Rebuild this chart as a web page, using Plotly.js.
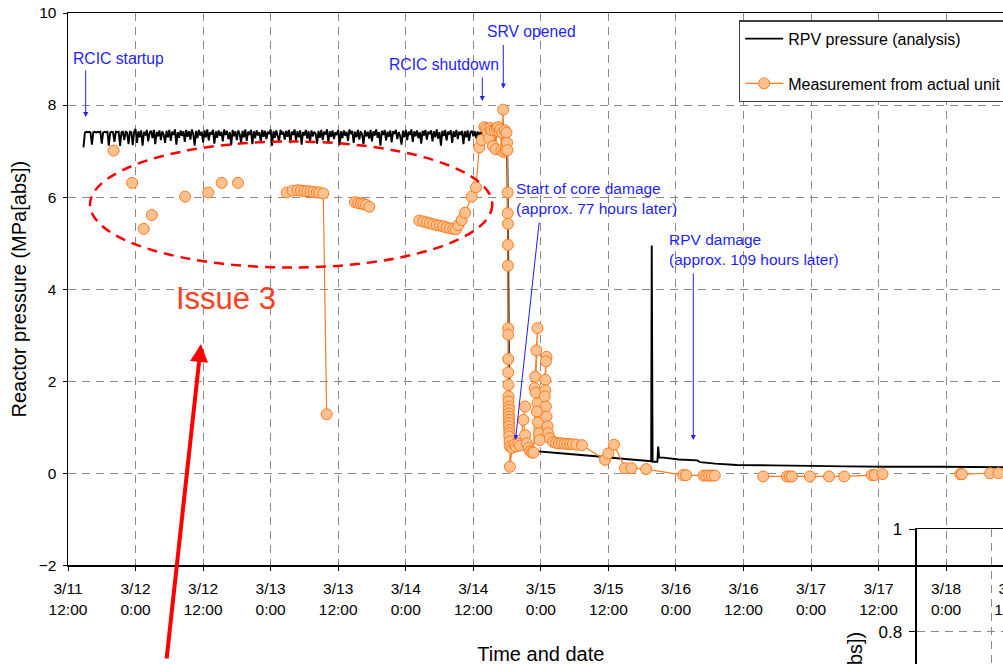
<!DOCTYPE html>
<html>
<head>
<meta charset="utf-8">
<script src="https://cdn.plot.ly/plotly-3.0.1.min.js"></script>
<style>
html,body{margin:0;padding:0;background:#fff;overflow:hidden;width:1003px;height:664px;}
#chart{width:1100px;height:1000px;}
</style>
</head>
<body>
<div id="chart"></div>
<script>
// ---------- DATA (hours after 3/11 12:00) ----------
const tickHours = [0,12,24,36,48,60,72,84,96,108,120,132,144,156,168];
const tickLabels = ["3/11<br>12:00","3/12<br>0:00","3/12<br>12:00","3/13<br>0:00","3/13<br>12:00","3/14<br>0:00","3/14<br>12:00","3/15<br>0:00","3/15<br>12:00","3/16<br>0:00","3/16<br>12:00","3/17<br>0:00","3/17<br>12:00","3/18<br>0:00","3/18<br>12:00"];

// RPV pressure (analysis): RCIC period, sampled every 0.25 h from 2.75 h
const noiseStartHour = 2.75;
const noiseStepHours = 0.25;
const noisePressure = [
7.08,7.40,7.42,7.41,7.42,7.40,7.14,7.41,7.42,7.40,7.42,7.41,
7.42,7.16,7.40,7.42,7.41,7.42,7.12,7.40,7.42,7.41,7.20,7.42,
7.41,7.42,7.11,7.41,7.42,7.24,7.42,7.40,7.15,7.42,7.41,7.13,
7.42,7.48,7.18,7.43,7.30,7.45,7.12,7.42,7.34,7.46,7.21,7.40,
7.44,7.28,7.46,7.15,7.42,7.32,7.45,7.24,7.43,7.36,7.18,7.44,
7.30,7.46,7.22,7.42,7.35,7.47,7.14,7.41,7.29,7.45,7.33,7.43,
7.20,7.46,7.31,7.43,7.25,7.47,7.37,7.12,7.44,7.28,7.46,7.34,
7.42,7.19,7.45,7.30,7.47,7.23,7.41,7.36,7.46,7.16,7.43,7.29,
7.45,7.33,7.42,7.21,7.47,7.35,7.44,7.26,7.41,7.13,7.46,7.32,
7.43,7.24,7.45,7.37,7.18,7.44,7.30,7.47,7.22,7.42,7.35,7.46,
7.15,7.43,7.28,7.45,7.34,7.41,7.20,7.46,7.31,7.44,7.26,7.42,
7.37,7.47,7.12,7.43,7.29,7.45,7.33,7.21,7.46,7.36,7.42,7.25,
7.44,7.31,7.46,7.17,7.42,7.35,7.47,7.23,7.43,7.30,7.45,7.14,
7.41,7.34,7.46,7.27,7.43,7.20,7.45,7.32,7.42,7.38,7.16,7.44,
7.29,7.46,7.24,7.42,7.36,7.47,7.19,7.43,7.31,7.45,7.26,7.41,
7.35,7.46,7.13,7.43,7.28,7.45,7.33,7.42,7.22,7.47,7.37,7.44,
7.18,7.42,7.30,7.46,7.25,7.43,7.36,7.15,7.45,7.32,7.42,7.27,
7.46,7.21,7.43,7.34,7.47,7.29,7.41,7.12,7.44,7.35,7.46,7.23,
7.42,7.31,7.45,7.19,7.43,7.37,7.46,7.26,7.41,7.33,7.14,7.44,
7.30,7.46,7.24,7.42,7.35,7.47,7.20,7.43,7.32,7.45,7.28,7.41,
7.16,7.44,7.34,7.46,7.25,7.42,7.37,7.45,7.21,7.43,7.30,7.47,
7.27,7.41,7.12,7.44,7.33,7.46,7.23,7.42,7.36,7.45,7.18,7.43,
7.31,7.46,7.26,7.42,7.35,7.44,7.15,7.43,7.30,7.45,7.22,7.41,
7.44,7.32,7.43,7.28,7.42,7.36,7.41,7.33,7.42,7.38,7.40,7.41,
7.38,7.42,7.40,7.41,7.39,7.42,7.40,7.38,7.41,7.40,7.39,7.38,
7.36
];
// RPV pressure (analysis): after SRV opening
const tailHours    = [78.0,78.15,78.35,78.6,80.0,83.0,88.0,94.8,99.0,103.6,103.7,103.85,104.7,104.85,105.0,105.8,108.5,111.8,112.3,115.0,118.8,125.0,131.8,138.0,145.4,155.0,168.0];
const tailPressure = [7.30,5.50,2.00,0.75,0.56,0.48,0.43,0.36,0.31,0.26,4.95,0.25,0.25,0.58,0.34,0.34,0.30,0.28,0.24,0.21,0.18,0.17,0.16,0.15,0.14,0.14,0.13];

// Measurement from actual unit (null = gap in the record)
const measHours = [
8.1,8.1, 11.4,11.4, 13.45,13.45, 14.9,14.9, 20.8,20.8, 24.9,24.9, 27.3,27.3, 30.2,30.2,
38.85,39.9,40.8,41.4,42.0,42.5,43.1,43.6,44.2,44.65,45.35,45.95,45.95,
50.98,51.57,52.05,52.46,52.94,53.53,53.53,
62.41,63.12,63.72,64.31,64.9,65.5,66.08,66.67,67.27,67.86,68.45,68.93,69.33,69.93,70.53,71.71,72.48,73.07,73.49,73.96,
74.3,74.6,74.8,75.0,75.3,75.5,75.8,76.0,76.2,76.4,76.6,76.8,77.0,77.15,77.3,77.45,77.6,77.75,77.9,78.0,78.05,
78.1,78.1,78.15,78.15,78.15,78.2,78.2,78.2,78.2,78.25,78.25,78.25,78.3,78.3,78.3,78.3,78.35,78.35,78.35,78.4,78.4,78.4,78.45,78.5,78.5,
78.9,79.3,79.6,80.0,80.3,
81.2,80.9,81.2,81.5,81.8,82.1,82.4,82.7,
83.4,83.2,83.0,82.9,83.1,83.4,83.3,83.5,83.7,83.8,
85.0,84.9,84.8,84.8,84.7,84.9,85.0,85.2,85.3,85.6,
86.2,86.7,87.2,87.7,88.2,88.7,89.2,89.7,90.3,91.3,
95.4,95.98,97.0,98.95,100.1,102.7,109.3,109.8,112.9,113.4,113.9,114.4,114.9,114.9,
123.5,127.7,128.2,128.6,131.8,135.2,137.9,142.8,143.3,144.7,144.7,
158.5,158.8,163.8,165.3
];
const measPressure = [
7.01,null, 6.31,null, 5.31,null, 5.61,null, 6.01,null, 6.10,null, 6.31,null, 6.31,null,
6.10,6.14,6.15,6.14,6.13,6.13,6.12,6.11,6.10,6.10,6.08,1.28,null,
5.89,5.87,5.86,5.85,5.83,5.79,null,
5.49,5.47,5.45,5.43,5.41,5.39,5.38,5.36,5.34,5.32,5.31,5.30,5.39,5.50,5.66,6.01,6.21,7.08,7.24,7.52,
7.48,7.40,7.29,7.50,7.45,7.11,7.46,7.04,7.50,7.52,7.42,7.47,7.01,7.40,7.90,6.98,7.45,7.02,7.40,7.18,7.02,
6.10,5.65,5.42,4.96,4.51,3.15,3.01,2.48,2.19,1.92,1.67,1.56,1.45,1.38,1.30,1.23,1.16,1.09,1.02,0.94,0.87,0.80,0.69,0.58,0.14,
0.55,0.62,0.58,0.65,0.60,
1.45,1.16,0.83,0.65,0.55,0.48,0.45,0.45,
3.15,2.67,2.10,1.85,1.75,1.52,1.34,1.10,0.87,0.72,
2.53,2.43,2.03,1.80,1.67,1.45,1.23,1.02,0.87,0.76,
0.68,0.66,0.65,0.65,0.64,0.64,0.63,0.63,0.62,0.61,
0.29,0.43,0.62,0.11,0.11,0.09,-0.04,-0.04,-0.05,-0.05,-0.05,-0.05,-0.05,null,
-0.07,-0.07,-0.07,-0.07,-0.07,-0.07,-0.07,-0.04,-0.04,-0.02,null,
-0.02,-0.02,0.00,0.00
];

// ---------- build ----------
const analysisHours = noisePressure.map((_, i) => noiseStartHour + i * noiseStepHours).concat(tailHours);
const analysisPressure = noisePressure.concat(tailPressure);

const FONT = "Liberation Sans, Arial, Helvetica, sans-serif";
const BLUE = "#1f1fff";
const GRID = "#8a8a8a";

const traces = [
  {
    x: analysisHours, y: analysisPressure, type: "scatter", mode: "lines",
    name: "RPV pressure (analysis)", legendgroup: "a",
    line: {color: "#000000", width: 1.9, simplify: false},
    xaxis: "x", yaxis: "y"
  },
  {
    x: measHours, y: measPressure, type: "scatter", mode: "lines+markers",
    name: "Measurement from actual unit", legendgroup: "b",
    connectgaps: false,
    line: {color: "#ff7a1f", width: 1.2, simplify: false},
    marker: {symbol: "circle", size: 11, color: "#ffc28e", line: {color: "#ff7a1f", width: 1}},
    xaxis: "x", yaxis: "y"
  },
  {
    // inset panel (only its frame is visible in the crop)
    x: [null], y: [null], type: "scatter", mode: "lines", showlegend: false,
    xaxis: "x2", yaxis: "y2"
  }
];

function h(px){ return (px - 68) / 5.6292; }
function p(py){ return (473.25 - py) / 46.025; }

const annotations = [
  {x: h(118.3), y: p(58), text: "RCIC startup", showarrow: false, font: {size: 15.7, color: BLUE}},
  {x: h(85.7), y: p(117), ax: h(85.7), ay: p(69), axref: "x", ayref: "y", text: "", showarrow: true, arrowhead: 2, arrowsize: 1, arrowwidth: 1, arrowcolor: BLUE},
  {x: h(444), y: p(64), text: "RCIC shutdown", showarrow: false, font: {size: 15.7, color: BLUE}},
  {x: h(482.3), y: p(101), ax: h(482.3), ay: p(76), axref: "x", ayref: "y", text: "", showarrow: true, arrowhead: 2, arrowsize: 1, arrowwidth: 1, arrowcolor: BLUE},
  {x: h(531.5), y: p(31.5), text: "SRV opened", showarrow: false, font: {size: 15.7, color: BLUE}},
  {x: h(503.3), y: p(88.5), ax: h(503.3), ay: p(43.5), axref: "x", ayref: "y", text: "", showarrow: true, arrowhead: 2, arrowsize: 1, arrowwidth: 1, arrowcolor: BLUE},
  {x: h(514.5), y: p(198.7), xanchor: "left", align: "left", text: "Start of core damage<br>(approx. 77 hours later)", showarrow: false, font: {size: 15.5, color: BLUE}},
  {x: h(515.5), y: p(440), ax: h(539.3), ay: p(221), axref: "x", ayref: "y", text: "", showarrow: true, arrowhead: 2, arrowsize: 1, arrowwidth: 1, arrowcolor: BLUE},
  {x: h(667), y: p(249.7), xanchor: "left", align: "left", text: "RPV damage<br>(approx. 109 hours later)", showarrow: false, font: {size: 15.5, color: BLUE}},
  {x: h(693.3), y: p(440), ax: h(693.3), ay: p(272), axref: "x", ayref: "y", text: "", showarrow: true, arrowhead: 2, arrowsize: 1, arrowwidth: 1, arrowcolor: BLUE},
  {x: h(226.3), y: p(298.3), text: "Issue 3", showarrow: false, font: {size: 31, color: "#ff4020"}},
  {x: h(201), y: p(344), ax: h(166.5), ay: p(660), axref: "x", ayref: "y", text: "", showarrow: true, arrowhead: 2, arrowsize: 0.9, arrowwidth: 4, arrowcolor: "#ff0000"}
];

const shapes = [
  {type: "circle", xref: "x", yref: "y", x0: h(90), x1: h(492.3), y0: p(267.5), y1: p(141.5),
   line: {color: "#ff0000", width: 2.5, dash: "10px,7px"}, layer: "above"}
];

const layout = {
  width: 1100, height: 1000,
  margin: {l: 68, r: 0, t: 13, b: 0},
  paper_bgcolor: "#ffffff", plot_bgcolor: "rgba(0,0,0,0)",
  font: {family: FONT, size: 15.5, color: "#000000"},
  showlegend: true,
  legend: {
    x: 0.6499, y: 0.9927, xanchor: "left", yanchor: "top",
    bgcolor: "#ffffff", bordercolor: "#404040", borderwidth: 1.5,
    font: {family: FONT, size: 16, color: "#000000"},
    tracegroupgap: 21, itemwidth: 38
  },
  xaxis: {
    domain: [0, 0.91637], range: [0, 168], anchor: "y",
    tickmode: "array", tickvals: tickHours, ticktext: tickLabels,
    showgrid: true, gridcolor: GRID, gridwidth: 1, griddash: "8px,6px",
    showline: true, linecolor: "#000000", linewidth: 1.5, mirror: true,
    ticks: "outside", ticklen: 4, tickcolor: "#000000", ticklabelstandoff: 5,
    tickfont: {family: FONT, size: 15.5},
    zeroline: false,
    title: {text: "Time and date", font: {family: FONT, size: 20}, standoff: 30}
  },
  yaxis: {
    domain: [0.44043, 1], range: [-2, 10], anchor: "x",
    tickmode: "linear", tick0: -2, dtick: 2,
    showgrid: true, gridcolor: GRID, gridwidth: 1, griddash: "8px,6px",
    showline: true, linecolor: "#000000", linewidth: 1.5, mirror: true,
    ticks: "outside", ticklen: 4, tickcolor: "#000000", ticklabelstandoff: 3,
    tickfont: {family: FONT, size: 15.5},
    zeroline: false,
    title: {text: "Reactor pressure (MPa[abs])", font: {family: FONT, size: 20}, standoff: 6}
  },
  xaxis2: {
    domain: [0.82267, 1], range: [0, 2.45], anchor: "y2",
    tickmode: "linear", tick0: 0, dtick: 1,
    showgrid: true, gridcolor: GRID, gridwidth: 1, griddash: "8px,6px",
    showline: true, linecolor: "#000000", linewidth: 1.5, mirror: true,
    ticks: "outside", ticklen: 5, showticklabels: false, zeroline: false
  },
  yaxis2: {
    domain: [0.00891, 0.4772], range: [0.1, 1], anchor: "x2",
    tickmode: "linear", tick0: 0, dtick: 0.2,
    showgrid: true, gridcolor: GRID, gridwidth: 1, griddash: "8px,6px",
    showline: true, linecolor: "#000000", linewidth: 1.5, mirror: true,
    ticks: "outside", ticklen: 6, tickcolor: "#000000", ticklabelstandoff: 4,
    tickfont: {family: FONT, size: 17},
    zeroline: false,
    title: {text: "Reactor pressure (MPa[abs])", font: {family: FONT, size: 20}, standoff: 10}
  },
  annotations: annotations,
  shapes: shapes,
  hovermode: false
};

Plotly.newPlot("chart", traces, layout, {displayModeBar: false, staticPlot: true});
</script>
</body>
</html>
